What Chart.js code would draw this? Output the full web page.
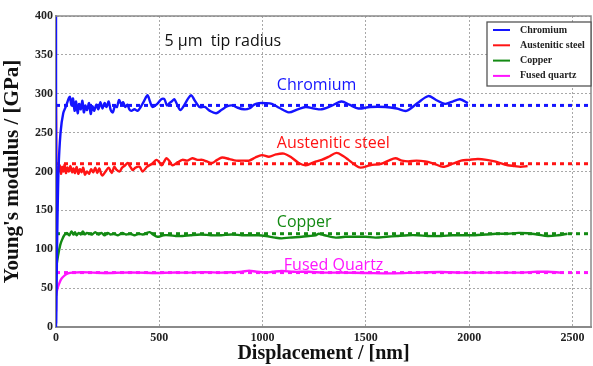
<!DOCTYPE html>
<html lang="en">
<head>
<meta charset="utf-8" />
<title>Young's modulus vs displacement</title>
<script src="https://cdn.jsdelivr.net/npm/chart.js"></script>
<style>
  html, body { margin: 0; padding: 0; background: #ffffff; }
  #wrap { width: 593px; height: 366px; }
</style>
</head>
<body>
<div id="wrap"><canvas id="grafico_modulo"></canvas></div>
<script>
// ---- data (displacement nm / modulus GPa) ----
const seriesNames = ["Chromium", "Austenitic steel", "Copper", "Fused quartz"];
const seriesColors = ["#1414ff", "#ff1414", "#138a13", "#ff14ff"];
const meanValues = [285, 210, 120, 70];
const xTicks = [0, 500, 1000, 1500, 2000, 2500];
const yTicks = [0, 50, 100, 150, 200, 250, 300, 350, 400];

const chromiumX = [0, 0, 1, 5, 12, 22, 35, 50, 60, 67, 75, 82, 90, 97, 105, 112, 120, 128, 135, 142, 150, 160, 168, 176, 185, 195, 205, 215, 225, 235, 245, 255, 265, 275, 285, 295, 305, 315, 325, 335, 345, 355, 365, 380, 395, 410, 425, 443, 455, 467, 490, 510, 525, 537, 549, 560, 573, 588, 602, 620, 640, 655, 670, 694, 720, 745, 775, 800, 830, 853, 880, 910, 935, 960, 983, 1016, 1045, 1080, 1127, 1170, 1209, 1250, 1286, 1330, 1382, 1420, 1464, 1520, 1594, 1650, 1696, 1750, 1802, 1840, 1883, 1920, 1956, 1994];
const chromiumY = [0, 400, 5, 100, 200, 250, 275, 285, 293, 296, 285, 294, 278, 290, 275, 287, 280, 291, 276, 285, 279, 288, 274, 284, 278, 286, 280, 289, 281, 288, 283, 290, 279, 276, 284, 283, 292, 287, 289, 283, 286, 280, 278, 280, 278, 283, 290, 298, 290, 283, 287, 293, 293, 285, 288, 290, 293, 285, 279, 285, 294, 298, 292, 283, 283, 278, 275, 279, 284, 285, 282, 280, 281, 286, 288, 288, 287, 282, 276, 280, 283, 281, 280, 284, 290, 286, 281, 283, 283, 281, 278, 288, 297, 292, 287, 290, 293, 288];

const steelX = [0, 0, 3, 8, 12, 18, 24, 30, 36, 42, 48, 55, 62, 70, 78, 85, 92, 100, 108, 116, 124, 132, 140, 150, 160, 170, 180, 190, 200, 210, 220, 226, 240, 255, 270, 282, 294, 308, 320, 335, 347, 360, 371, 385, 405, 419, 440, 465, 486, 500, 511, 522, 535, 550, 564, 590, 612, 635, 660, 685, 708, 730, 756, 780, 804, 840, 872, 910, 935, 965, 997, 1031, 1065, 1103, 1140, 1175, 1209, 1250, 1286, 1320, 1358, 1390, 1416, 1445, 1474, 1520, 1575, 1610, 1643, 1675, 1705, 1745, 1787, 1830, 1874, 1920, 1961, 2000, 2042, 2085, 2124, 2160, 2187, 2220, 2249, 2283];
const steelY = [285, 280, 195, 205, 200, 208, 197, 206, 200, 209, 198, 205, 200, 207, 199, 204, 198, 206, 197, 203, 199, 205, 196, 200, 197, 203, 199, 205, 198, 204, 196, 195, 200, 205, 198, 206, 202, 200, 205, 208, 211, 206, 202, 205, 206, 200, 206, 210, 215, 212, 208, 212, 217, 213, 208, 212, 215, 214, 217, 215, 215, 213, 211, 215, 218, 216, 214, 214, 214, 218, 221, 219, 222, 223, 218, 211, 208, 212, 215, 219, 224, 220, 215, 209, 205, 208, 210, 214, 217, 214, 213, 214, 213, 210, 206, 210, 214, 215, 216, 215, 213, 210, 208, 207, 206, 207];

const copperX = [0, 0, 3, 10, 20, 29, 40, 53, 65, 75, 85, 92, 100, 110, 120, 130, 140, 150, 160, 175, 190, 205, 220, 235, 250, 265, 280, 300, 320, 340, 360, 380, 400, 420, 440, 453, 470, 491, 520, 550, 580, 612, 650, 700, 750, 800, 850, 900, 935, 980, 1016, 1060, 1093, 1130, 1190, 1223, 1257, 1272, 1300, 1354, 1400, 1450, 1500, 1546, 1600, 1650, 1705, 1750, 1800, 1864, 1920, 1970, 2028, 2080, 2130, 2187, 2240, 2283, 2330, 2380, 2430, 2476];
const copperY = [40, 75, 80, 92, 105, 112, 118, 121, 118, 123, 119, 122, 118, 121, 119, 123, 119, 121, 120, 119, 122, 119, 121, 118, 121, 119, 120, 118, 121, 119, 120, 118, 120, 119, 121, 122, 119, 116, 118, 118, 117, 117, 118, 119, 118, 118, 119, 118, 118, 118, 117, 115, 114, 115, 116, 117, 118, 120, 118, 115, 116, 116, 116, 115, 116, 117, 118, 118, 117, 117, 118, 118, 118, 119, 120, 120, 121, 120.5, 119, 117, 118, 120];

const quartzX = [0, 0, 3, 10, 20, 29, 45, 58, 80, 120, 180, 250, 320, 400, 480, 560, 640, 720, 800, 860, 900, 935, 970, 1016, 1050, 1093, 1150, 1223, 1300, 1382, 1500, 1623, 1750, 1864, 1950, 2100, 2250, 2330, 2380, 2442];
const quartzY = [20, 40, 45, 52, 59, 63, 67, 69, 70, 70.5, 70, 69.5, 70, 70, 69.5, 70, 70, 70.5, 70, 70.5, 71, 72.5, 71, 70, 71, 72, 71, 71, 70, 70, 69.5, 69, 70, 70.7, 70, 70, 70, 71, 71, 70];

const xMax = 2590;

// annotations near the curves: text, x, y (baseline), colour
const labelTexts = ["5 \u00b5m  tip radius", "Chromium", "Austenitic steel", "Copper", "Fused Quartz"];
const labelX = [525, 1069, 1069, 1069, 1103];
const labelY = [361, 305, 230, 128.6, 73];
const labelColors = ["#111111", "#1414ff", "#ff1414", "#138a13", "#ff14ff"];

function toPoints(xs, ys) {
    return xs.map((x, i) => ({ x: x, y: ys[i] }));
}

const rawX = [chromiumX, steelX, copperX, quartzX];
const rawY = [chromiumY, steelY, copperY, quartzY];

const datasets = [];
seriesNames.forEach((name, i) => {
    datasets.push({
        label: name,
        data: toPoints(rawX[i], rawY[i]),
        borderColor: seriesColors[i],
        borderWidth: 2.4,
        pointRadius: 0,
        tension: 0.3,
        fill: false,
        order: 1
    });
});
seriesNames.forEach((name, i) => {
    datasets.push({
        label: name + " mean",
        data: [{ x: 0, y: meanValues[i] }, { x: xMax, y: meanValues[i] }],
        borderColor: seriesColors[i],
        borderWidth: 3,
        borderDash: [4, 4],
        pointRadius: 0,
        fill: false,
        order: 2
    });
});

// frame, text labels and legend box
const decoPlugin = {
    id: "deco",
    afterDatasetsDraw(chart) {
        const ctx = chart.ctx;
        const a = chart.chartArea;
        const sx = chart.scales.x, sy = chart.scales.y;
        ctx.save();
        ctx.strokeStyle = "#8a8a8a";
        ctx.lineWidth = 1.5;
        ctx.beginPath();
        ctx.moveTo(a.left, a.top);
        ctx.lineTo(a.right, a.top);
        ctx.lineTo(a.right, a.bottom);
        ctx.stroke();

        ctx.font = "16px 'Open Sans'";
        ctx.textAlign = "left";
        ctx.textBaseline = "alphabetic";
        labelTexts.forEach((t, i) => {
            ctx.fillStyle = labelColors[i];
            ctx.fillText(t, sx.getPixelForValue(labelX[i]), sy.getPixelForValue(labelY[i]));
        });

        // legend
        const bx = 487, by = 22, bw = 104, bh = 64;
        ctx.fillStyle = "#ffffff";
        ctx.fillRect(bx, by, bw, bh);
        ctx.strokeStyle = "#555555";
        ctx.lineWidth = 1.3;
        ctx.strokeRect(bx, by, bw, bh);
        ctx.font = "bold 10px 'Liberation Serif'";
        ctx.textBaseline = "middle";
        seriesNames.forEach((name, i) => {
            const yy = by + 8 + i * 15.3;
            ctx.strokeStyle = seriesColors[i];
            ctx.lineWidth = 2;
            ctx.beginPath();
            ctx.moveTo(bx + 6, yy);
            ctx.lineTo(bx + 23, yy);
            ctx.stroke();
            ctx.fillStyle = "#222222";
            ctx.fillText(name, bx + 33, yy);
        });
        ctx.restore();
    }
};

new Chart(document.getElementById("grafico_modulo"), {
    type: "line",
    data: { datasets: datasets },
    options: {
        responsive: true,
        maintainAspectRatio: false,
        animation: false,
        layout: { padding: { top: 16, right: 2, left: 0, bottom: 0 } },
        plugins: {
            legend: { display: false },
            tooltip: { enabled: false }
        },
        scales: {
            x: {
                type: "linear",
                min: 0,
                max: xMax,
                afterBuildTicks: (s) => { s.ticks = xTicks.map((v) => ({ value: v })); },
                afterFit: (s) => { s.height = 39; },
                ticks: { color: "#222", font: { family: "Liberation Serif", size: 12, weight: "bold" }, padding: 4, maxRotation: 0, callback: (v) => String(v) },
                grid: { color: "#a8a8a8", lineWidth: 1, drawTicks: false },
                border: { color: "#8a8a8a", width: 2, dash: [2, 2] },
                title: { display: true, text: "Displacement / [nm]", color: "#111", font: { family: "Liberation Serif", size: 20, weight: "bold" }, padding: { top: 0, bottom: 0 } }
            },
            y: {
                min: 0,
                max: 400,
                afterBuildTicks: (s) => { s.ticks = yTicks.map((v) => ({ value: v })); },
                afterFit: (s) => { s.width = 56; },
                ticks: { color: "#222", font: { family: "Liberation Serif", size: 12, weight: "bold" }, padding: 3, callback: (v) => String(v) },
                grid: { color: "#a8a8a8", lineWidth: 1, drawTicks: false },
                border: { color: "#8a8a8a", width: 2, dash: [2, 2] },
                title: { display: true, text: "Young's modulus / [GPa]", color: "#111", font: { family: "Liberation Serif", size: 21, weight: "bold" }, padding: { top: 0, bottom: 4 } }
            }
        }
    },
    plugins: [decoPlugin]
});
</script>
</body>
</html>
